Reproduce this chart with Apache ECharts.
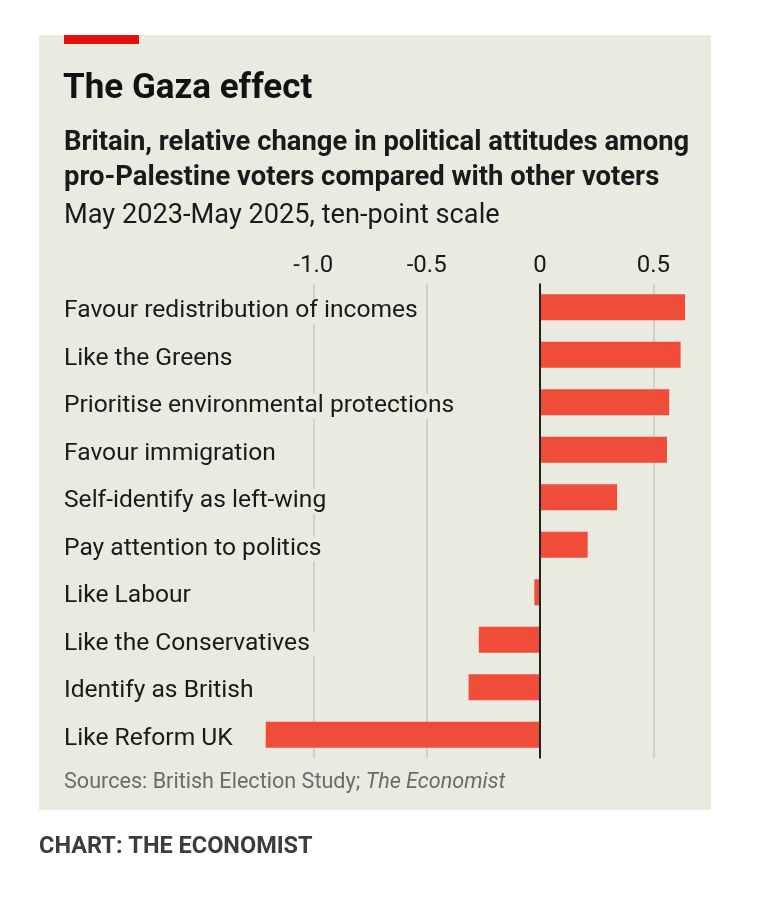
<!DOCTYPE html>
<html>
<head>
<meta charset="utf-8">
<script src="https://cdn.jsdelivr.net/npm/echarts@6/dist/echarts.min.js"></script>
<style>
  html, body { margin: 0; padding: 0; background: #ffffff; }
  #chart { width: 758px; height: 898px; }
</style>
</head>
<body>
<div id="chart"></div>
<script>
const categories = [
  'Favour redistribution of incomes',
  'Like the Greens',
  'Prioritise environmental protections',
  'Favour immigration',
  'Self-identify as left-wing',
  'Pay attention to politics',
  'Like Labour',
  'Like the Conservatives',
  'Identify as British',
  'Like Reform UK'
];
const values = [0.64, 0.62, 0.57, 0.56, 0.34, 0.21, -0.025, -0.27, -0.315, -1.21];
const tickLabels = { '-1': '-1.0', '-0.5': '-0.5', '0': '0', '0.5': '0.5' };

const PANEL = '#ebeae0';
const FONT = 'Roboto';
const chart = echarts.init(document.getElementById('chart'), null, { renderer: 'canvas' });

chart.setOption({
  backgroundColor: '#ffffff',
  animation: false,
  textStyle: { fontFamily: FONT },
  graphic: [
    { type: 'rect', z: -10, silent: true, shape: { x: 39, y: 35, width: 672, height: 775 }, style: { fill: PANEL } },
    { type: 'rect', z: -9, silent: true, shape: { x: 64, y: 35, width: 75, height: 9 }, style: { fill: '#e3120b' } }
  ],
  title: [
    { text: 'The Gaza effect', left: 63, top: 69, padding: 0,
      textStyle: { fontFamily: FONT, fontSize: 35, fontWeight: 'bold', color: '#121212', lineHeight: 40 } },
    { text: 'Britain, relative change in political attitudes among\npro-Palestine voters compared with other voters',
      left: 64, top: 126, padding: 0,
      textStyle: { fontFamily: FONT, fontSize: 27.4, fontWeight: 'bold', color: '#1a1a1a', lineHeight: 35 } },
    { text: 'May 2023-May 2025, ten-point scale', left: 64, top: 199, padding: 0,
      textStyle: { fontFamily: FONT, fontSize: 27.2, fontWeight: 'normal', color: '#1a1a1a', lineHeight: 34 } },
    { text: '{a|Sources: British Election Study; }{b|The Economist}', left: 64, top: 769, padding: 0,
      textStyle: { rich: {
        a: { fontFamily: FONT, fontSize: 21.6, fontWeight: 'normal', color: '#6b6b6b', lineHeight: 28 },
        b: { fontFamily: FONT, fontSize: 21.6, fontWeight: 'normal', color: '#6b6b6b', fontStyle: 'italic', lineHeight: 28 }
      } } },
    { text: 'CHART: THE ECONOMIST', left: 39, top: 832, padding: 0,
      textStyle: { fontFamily: FONT, fontSize: 23.5, fontWeight: 'bold', color: '#3d3d3d', lineHeight: 30 } }
  ],
  grid: { left: 200, width: 566.7, top: 283.5, bottom: 139.5, containLabel: false, outerBoundsMode: 'none' },
  xAxis: {
    type: 'value', position: 'top',
    min: -1.5, max: 1.0, interval: 0.5,
    axisLine: { show: false }, axisTick: { show: false },
    axisLabel: {
      show: true, margin: 6, fontSize: 24, color: '#1a1a1a', fontFamily: FONT,
      showMinLabel: false, showMaxLabel: false,
      formatter: function (v) { const k = String(Math.round(v * 10) / 10); return tickLabels[k] !== undefined ? tickLabels[k] : ''; }
    },
    splitLine: { show: true, lineStyle: { width: 1.5, color: ['rgba(0,0,0,0)', '#c9c9c0', '#c9c9c0', '#c9c9c0', '#c9c9c0', 'rgba(0,0,0,0)'] } }
  },
  yAxis: {
    type: 'category', inverse: true, data: categories, z: 5,
    axisLine: { show: false, onZero: false }, axisTick: { show: false },
    axisLabel: {
      align: 'left', margin: 136,
      formatter: function (v) { return '{s| }\n{a|' + v + '}'; },
      rich: {
        s: { fontSize: 1, lineHeight: 8 },
        a: { fontSize: 24.6, color: '#1a1a1a', fontFamily: FONT, backgroundColor: PANEL, padding: [0, 8, 0, 0], lineHeight: 28 }
      }
    }
  },
  series: [{
    type: 'bar', data: values, barWidth: 26, z: 2,
    itemStyle: { color: '#ef4c39' },
    markLine: {
      silent: true, symbol: ['none', 'none'], label: { show: false },
      lineStyle: { color: '#222222', width: 2, type: 'solid' },
      data: [{ xAxis: 0 }]
    }
  }]
});
</script>
</body>
</html>
